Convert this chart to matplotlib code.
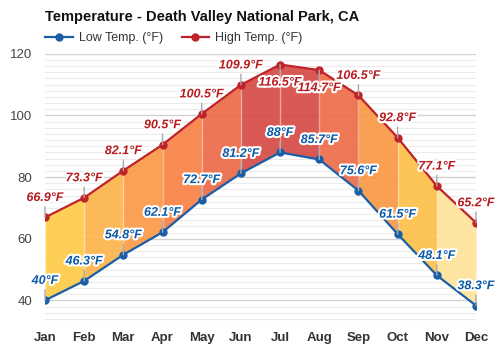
import matplotlib
matplotlib.use("Agg")
import matplotlib.pyplot as plt
import matplotlib.patheffects as pe
import numpy as np

months = ["Jan", "Feb", "Mar", "Apr", "May", "Jun", "Jul", "Aug", "Sep", "Oct", "Nov", "Dec"]
high = [66.9, 73.3, 82.1, 90.5, 100.5, 109.9, 116.5, 114.7, 106.5, 92.8, 77.1, 65.2]
low = [40, 46.3, 54.8, 62.1, 72.7, 81.2, 88, 85.7, 75.6, 61.5, 48.1, 38.3]
high_labels = ["66.9°F", "73.3°F", "82.1°F", "90.5°F", "100.5°F", "109.9°F", "116.5°F",
               "114.7°F", "106.5°F", "92.8°F", "77.1°F", "65.2°F"]
low_labels = ["40°F", "46.3°F", "54.8°F", "62.1°F", "72.7°F", "81.2°F", "88°F",
              "85.7°F", "75.6°F", "61.5°F", "48.1°F", "38.3°F"]
seg_colors = ["#FECB47", "#FDB44B", "#FC9A48", "#F98245", "#EC6A48", "#D64B45",
              "#D64B45", "#EE6C48", "#FA9844", "#FDC04A", "#FFE39A"]
high_below = [False, False, False, False, False, False, True, True, False, False, False, False]
yticks = [40, 60, 80, 100, 120]

plt.rcParams['font.family'] = ['Liberation Sans', 'DejaVu Sans']

fig = plt.figure(figsize=(5, 3.5), dpi=100)
ax = fig.add_axes([0.09, 0.0714, 0.862, 0.775])

x = np.arange(len(months))

for i in range(len(months) - 1):
    ax.fill_between(x[i:i + 2], low[i:i + 2], high[i:i + 2], color=seg_colors[i],
                    alpha=0.92, lw=0, zorder=2)
ax.vlines(x, low, high, color="white", alpha=0.35, lw=1, zorder=2.5)

red = "#C0222A"
blue = "#1A5EA8"
ax.plot(x, low, color=blue, lw=1.6, marker="o", ms=5, zorder=5, label="Low Temp. (°F)")
ax.plot(x, high, color=red, lw=1.6, marker="o", ms=5, zorder=5, label="High Temp. (°F)")

stroke = [pe.withStroke(linewidth=3, foreground="white")]
for i in range(len(months)):
    off = -13 if high_below[i] else 14
    ax.annotate(high_labels[i], (x[i], high[i]), xytext=(0, off), textcoords="offset points",
                ha="center", va="center", fontsize=9, fontweight="bold", fontstyle="italic",
                color="#B81C1F", path_effects=stroke, zorder=6, annotation_clip=False,
                arrowprops=dict(arrowstyle="-", color="#aaaaaa", lw=1, shrinkA=0, shrinkB=0))
    ax.annotate(low_labels[i], (x[i], low[i]), xytext=(0, 14), textcoords="offset points",
                ha="center", va="center", fontsize=9, fontweight="bold", fontstyle="italic",
                color="#0B5AA8", path_effects=stroke, zorder=6, annotation_clip=False,
                arrowprops=dict(arrowstyle="-", color="#aaaaaa", lw=1, shrinkA=0, shrinkB=0))

ax.set_xlim(0, 11)
ax.set_ylim(32, 120)
ax.set_xticks(x)
ax.set_xticklabels(months, fontweight="bold", fontsize=9.5, color="#333333")
ax.set_yticks(yticks)
ax.set_yticks(np.arange(32, 121, 2), minor=True)
ax.tick_params(axis="y", which="both", length=0, pad=9, labelsize=9.5, labelcolor="#444444")
ax.tick_params(axis="x", length=0, pad=5)
ax.grid(True, which="minor", axis="y", color="#ebebeb", lw=0.8, zorder=0)
ax.grid(True, which="major", axis="y", color="#d2d2d2", lw=1, zorder=0)
ax.set_axisbelow(True)
for s in ax.spines.values():
    s.set_visible(False)

fig.text(0.09, 0.95, "Temperature - Death Valley National Park, CA", fontsize=10.5,
         fontweight="bold", ha="left", va="center", color="#111111")
ax.legend(loc="lower left", bbox_to_anchor=(0, 1.035), ncol=2, frameon=False,
          fontsize=9, handlelength=2.2, handletextpad=0.5, columnspacing=1.5,
          borderaxespad=0, borderpad=0, labelcolor="#333333")

fig.savefig("out.png", dpi=100)
